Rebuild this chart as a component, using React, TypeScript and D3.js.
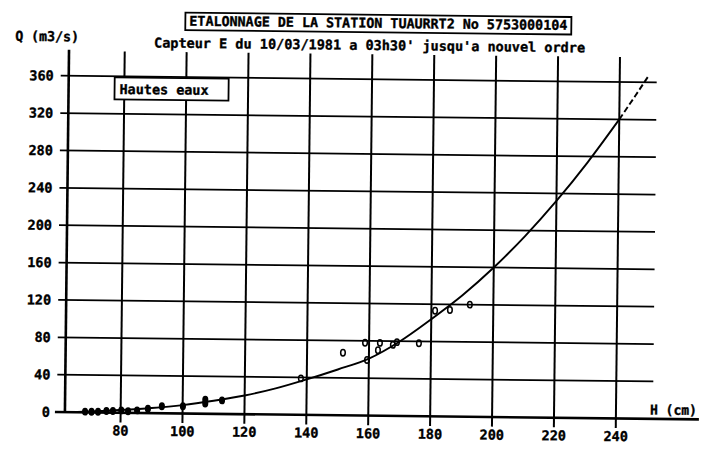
import React from "react";
import * as d3 from "d3";

const titleText = "ETALONNAGE DE LA STATION TUAURRT2 No 5753000104";
const subtitleText = "Capteur E du 10/03/1981 a 03h30' jusqu'a nouvel ordre";
const yAxisLabel = "Q (m3/s)";
const xAxisLabel = "H (cm)";
const legendText = "Hautes eaux";

const xTicks = [80, 100, 120, 140, 160, 180, 200, 220, 240];
const yTicks = [0, 40, 80, 120, 160, 200, 240, 280, 320, 360];

// rating curve
const curveH = [66, 70, 80, 90, 100, 110, 120, 130, 140, 150, 160, 170, 180, 190, 200, 210, 220, 230, 240];
const curveQ = [0.5, 1, 3, 5.5, 9, 14, 20, 28, 38, 49, 61, 80, 104, 130, 160, 194, 232, 274, 320];
// extrapolated (dashed) end
const extH = [240, 245, 249.5];
const extQ = [320, 345, 368];

// gaugings
const pointH = [68.5, 70.6, 72.7, 75.4, 77.5, 80.2, 82.4, 85.3, 88.8, 93.3, 100.1, 107.3, 107.3, 112.7, 138.1,
  151.6, 158.7, 159.4, 163.5, 162.9, 167.7, 169, 176.1, 181.2, 186, 192.4];
const pointQ = [0.8, 0.8, 0.8, 1.8, 1.8, 2.6, 1.8, 2.8, 4.7, 7.5, 7.8, 11, 15, 14.5, 39,
  67, 78, 59.5, 78, 70, 76, 79, 78, 113, 114, 120];

const FONT = "'DejaVu Sans Mono', monospace";

export default function App() {
  const x = d3.scaleLinear().domain([62, 240]).range([67, 618]);
  const y = d3.scaleLinear().domain([0, 360]).range([415.4, 79]);

  const line = d3
    .line<number>()
    .x((_, i) => x(curveH[i]))
    .y((_, i) => y(curveQ[i]))
    .curve(d3.curveMonotoneX);
  const extLine = d3
    .line<number>()
    .x((_, i) => x(extH[i]))
    .y((_, i) => y(extQ[i]))
    .curve(d3.curveMonotoneX);

  const x0 = x(62);
  const yTop = 54;
  const gridRight = 655;
  const textStroke = { stroke: "#000", strokeWidth: 0.35 };

  return (
    <svg
      width={701}
      height={450}
      style={{ position: "absolute", left: 0, top: 0, background: "#fff" }}
      fontFamily={FONT}
      fontWeight="bold"
    >
      <rect x={0} y={0} width={701} height={450} fill="#fff" />
      <g transform="rotate(0.65 350 230)">
        {/* horizontal grid */}
        {yTicks.slice(1).map((t) => (
          <line key={"h" + t} x1={x0 - 8} x2={gridRight} y1={y(t)} y2={y(t)} stroke="#000" strokeWidth={1.8} />
        ))}
        {/* vertical grid */}
        {xTicks.map((t) => (
          <line key={"v" + t} x1={x(t)} x2={x(t)} y1={yTop} y2={425} stroke="#000" strokeWidth={2} />
        ))}
        {/* axes */}
        <line x1={x0} x2={x0} y1={yTop - 1} y2={y(0)} stroke="#000" strokeWidth={2.6} />
        <line x1={x0 - 10} x2={701} y1={y(0)} y2={y(0)} stroke="#000" strokeWidth={2.6} />

        {/* y tick labels */}
        {yTicks.map((t) => (
          <text key={"yl" + t} x={52} y={y(t) + 4.8} textAnchor="end" fontSize={13.5} {...textStroke}>
            {t}
          </text>
        ))}
        {/* x tick labels */}
        {xTicks.map((t) => (
          <text key={"xl" + t} x={x(t)} y={438} textAnchor="middle" fontSize={13.5} {...textStroke}>
            {t}
          </text>
        ))}

        {/* axis labels */}
        <text x={13} y={44.5} fontSize={13.5} textLength={64} lengthAdjust="spacingAndGlyphs" {...textStroke}>
          {yAxisLabel}
        </text>
        <text x={652} y={411} fontSize={13.5} textLength={47} lengthAdjust="spacingAndGlyphs" {...textStroke}>
          {xAxisLabel}
        </text>

        {/* title */}
        <rect x={183} y={14.5} width={386} height={17.5} fill="#fff" stroke="#000" strokeWidth={1.8} />
        <text x={187} y={27.5} fontSize={13.5} textLength={378} lengthAdjust="spacingAndGlyphs" {...textStroke}>
          {titleText}
        </text>
        <text x={152} y={49.7} fontSize={13.5} textLength={431} lengthAdjust="spacingAndGlyphs" {...textStroke}>
          {subtitleText}
        </text>

        {/* legend box */}
        <rect x={113} y={80} width={114} height={22} fill="#fff" stroke="#000" strokeWidth={1.8} />
        <text x={118} y={96.5} fontSize={13.5} textLength={89} lengthAdjust="spacingAndGlyphs" {...textStroke}>
          {legendText}
        </text>

        {/* curve */}
        <path d={line(curveH) ?? ""} fill="none" stroke="#000" strokeWidth={1.9} />
        <path d={extLine(extH) ?? ""} fill="none" stroke="#000" strokeWidth={1.9} strokeDasharray="6 3" />

        {/* gaugings */}
        {pointH.map((h, i) => (
          <ellipse
            key={"p" + i}
            cx={x(h)}
            cy={y(pointQ[i])}
            rx={2.3}
            ry={3.2}
            fill={h < 115 ? "#000" : "none"}
            stroke="#000"
            strokeWidth={1.5}
          />
        ))}
      </g>
    </svg>
  );
}
